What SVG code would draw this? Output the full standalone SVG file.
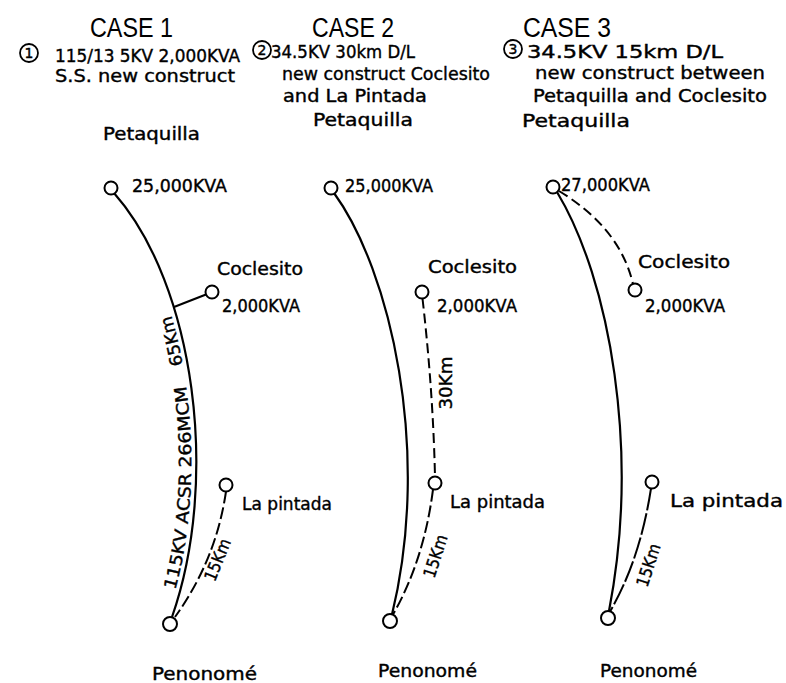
<svg xmlns="http://www.w3.org/2000/svg" width="786" height="683" viewBox="0 0 786 683">
<style>
.t{font-family:"DejaVu Sans","Liberation Sans",sans-serif;font-size:18px;fill:#000;stroke:#000;stroke-width:0.4}
.c{font-family:"Liberation Sans",Arial,sans-serif;font-size:27px;fill:#000}
.n{font-family:"DejaVu Sans","Liberation Sans",sans-serif;font-size:14px;fill:#000;text-anchor:middle;stroke:#000;stroke-width:0.4}
.ring{fill:none;stroke:#000;stroke-width:1.8}
.node{fill:#fff;stroke:#000;stroke-width:2}
.solid{fill:none;stroke:#000;stroke-width:2.2}
.dash{fill:none;stroke:#000;stroke-width:2;stroke-dasharray:12 4}
</style>
<defs>
<path id="p1" d="M167,617 C215,480 190,285 109,193"/>
</defs>
<rect width="786" height="683" fill="#fff"/>

<g id="connectors">
<path class="solid" d="M114,193 C195,285 220,480 172,617"/>
<path class="solid" d="M174,307 L206,294.5"/>
<path class="dash" d="M226,491.5 Q216,560 175,617"/>
<path class="solid" d="M334,193 C390,270 432,450 392,614.5"/>
<path class="dash" style="stroke-dasharray:10 5" d="M422.5,298.5 Q433,390 435,476.5"/>
<path class="dash" d="M433,489.5 Q424,560 393,614.5"/>
<path class="solid" d="M557,192 C610,280 640,450 609,611"/>
<path class="dash" style="stroke-dasharray:10 5" d="M559,191 Q620,228 633,284"/>
<path class="dash" style="stroke-dasharray:22 3" d="M651,488.5 Q640,560 610,611.5"/>
</g>

<g id="case1-header">
<text class="c" x="90" y="37" textLength="83" lengthAdjust="spacingAndGlyphs">CASE 1</text>
<circle class="ring" cx="29" cy="53" r="9"/>
<text class="n" x="29" y="58">1</text>
<text class="t" x="55" y="62" textLength="185" lengthAdjust="spacingAndGlyphs">115/13 5KV 2,000KVA</text>
<text class="t" x="55" y="82" textLength="180" lengthAdjust="spacingAndGlyphs">S.S. new construct</text>
<text class="t" x="103" y="140" textLength="97" lengthAdjust="spacingAndGlyphs">Petaquilla</text>
</g>
<g id="case2-header">
<text class="c" x="312" y="37" textLength="82" lengthAdjust="spacingAndGlyphs">CASE 2</text>
<circle class="ring" cx="262" cy="50" r="9"/>
<text class="n" x="262" y="55">2</text>
<text class="t" x="271" y="58" textLength="144" lengthAdjust="spacingAndGlyphs">34.5KV 30km D/L</text>
<text class="t" x="282" y="80" textLength="208" lengthAdjust="spacingAndGlyphs">new construct Coclesito</text>
<text class="t" x="283" y="102" textLength="144" lengthAdjust="spacingAndGlyphs">and La Pintada</text>
<text class="t" x="313" y="126" textLength="100" lengthAdjust="spacingAndGlyphs">Petaquilla</text>
</g>
<g id="case3-header">
<text class="c" x="523" y="37" textLength="88" lengthAdjust="spacingAndGlyphs">CASE 3</text>
<circle class="ring" cx="513" cy="49" r="9"/>
<text class="n" x="513" y="54">3</text>
<text class="t" x="527" y="58" textLength="196" lengthAdjust="spacingAndGlyphs">34.5KV 15km D/L</text>
<text class="t" x="535" y="79" textLength="230" lengthAdjust="spacingAndGlyphs">new construct between</text>
<text class="t" x="533" y="102" textLength="234" lengthAdjust="spacingAndGlyphs">Petaquilla and Coclesito</text>
<text class="t" x="522" y="127" textLength="108" lengthAdjust="spacingAndGlyphs">Petaquilla</text>
</g>

<g id="c1-petaquilla">
<circle class="node" cx="111" cy="188" r="6.5"/>
<text class="t" x="132" y="192" textLength="95" lengthAdjust="spacingAndGlyphs">25,000KVA</text>
</g>
<g id="c1-coclesito">
<circle class="node" cx="212" cy="292" r="6.5"/>
<text class="t" x="217" y="275" textLength="86" lengthAdjust="spacingAndGlyphs">Coclesito</text>
<text class="t" x="222" y="312" textLength="78" lengthAdjust="spacingAndGlyphs">2,000KVA</text>
</g>
<g id="c1-lapintada">
<circle class="node" cx="226" cy="485" r="6.5"/>
<text class="t" x="242" y="510" textLength="90" lengthAdjust="spacingAndGlyphs">La pintada</text>
</g>
<g id="c1-penonome">
<circle class="node" cx="170" cy="624" r="7"/>
<text class="t" x="152" y="680" textLength="105" lengthAdjust="spacingAndGlyphs">Penonomé</text>
</g>
<g id="c1-labels">
<text class="t" style="font-size:17px"><textPath href="#p1" startOffset="28" textLength="206" lengthAdjust="spacingAndGlyphs">115KV ACSR 266MCM</textPath></text>
<text class="t" style="font-size:17px"><textPath href="#p1" startOffset="255" textLength="51" lengthAdjust="spacingAndGlyphs">65Km</textPath></text>
<text class="t" style="font-size:17px;text-anchor:middle" transform="translate(223,562) rotate(-68)" textLength="44" lengthAdjust="spacingAndGlyphs">15Km</text>
</g>

<g id="c2-petaquilla">
<circle class="node" cx="331" cy="188" r="6.5"/>
<text class="t" x="345" y="192" textLength="88" lengthAdjust="spacingAndGlyphs">25,000KVA</text>
</g>
<g id="c2-coclesito">
<circle class="node" cx="422" cy="292" r="6.5"/>
<text class="t" x="428" y="273" textLength="89" lengthAdjust="spacingAndGlyphs">Coclesito</text>
<text class="t" x="437" y="312" textLength="80" lengthAdjust="spacingAndGlyphs">2,000KVA</text>
</g>
<g id="c2-lapintada">
<circle class="node" cx="435" cy="483" r="6.5"/>
<text class="t" x="450" y="508" textLength="95" lengthAdjust="spacingAndGlyphs">La pintada</text>
</g>
<g id="c2-penonome">
<circle class="node" cx="390" cy="621" r="7"/>
<text class="t" x="378" y="677" textLength="99" lengthAdjust="spacingAndGlyphs">Penonomé</text>
</g>
<g id="c2-labels">
<text class="t" style="font-size:17px;text-anchor:middle" transform="translate(452,383) rotate(-90)" textLength="53" lengthAdjust="spacingAndGlyphs">30Km</text>
<text class="t" style="font-size:17px;text-anchor:middle" transform="translate(441,558) rotate(-72)" textLength="44" lengthAdjust="spacingAndGlyphs">15Km</text>
</g>

<g id="c3-petaquilla">
<circle class="node" cx="553" cy="187" r="6.5"/>
<text class="t" x="561" y="191" textLength="89" lengthAdjust="spacingAndGlyphs">27,000KVA</text>
</g>
<g id="c3-coclesito">
<circle class="node" cx="635" cy="290" r="6.5"/>
<text class="t" x="638" y="268" textLength="92" lengthAdjust="spacingAndGlyphs">Coclesito</text>
<text class="t" x="645" y="312" textLength="80" lengthAdjust="spacingAndGlyphs">2,000KVA</text>
</g>
<g id="c3-lapintada">
<circle class="node" cx="652" cy="482" r="6.5"/>
<text class="t" x="670" y="507" textLength="113" lengthAdjust="spacingAndGlyphs">La pintada</text>
</g>
<g id="c3-penonome">
<circle class="node" cx="608" cy="618" r="7"/>
<text class="t" x="600" y="677" textLength="97" lengthAdjust="spacingAndGlyphs">Penonomé</text>
</g>
<g id="c3-labels">
<text class="t" style="font-size:17px;text-anchor:middle" transform="translate(654,567) rotate(-72)" textLength="44" lengthAdjust="spacingAndGlyphs">15Km</text>
</g>
</svg>
